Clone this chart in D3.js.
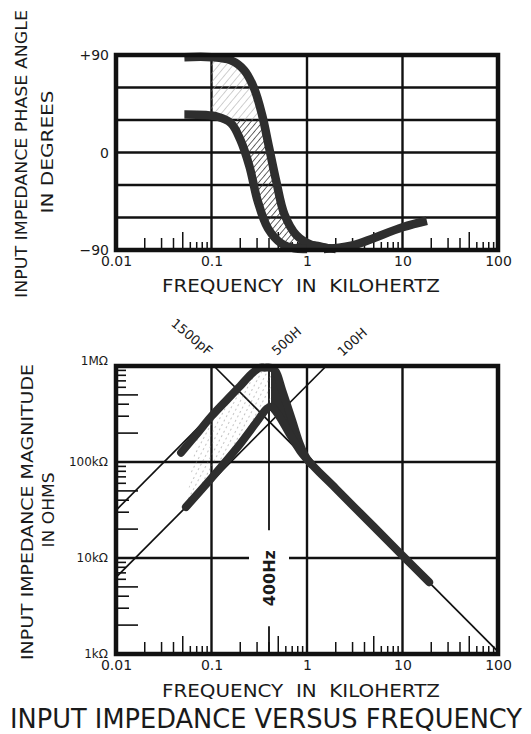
<!DOCTYPE html>
<html>
<head>
<meta charset="utf-8">
<script src="https://cdn.jsdelivr.net/npm/d3@7"></script>
<style>
  body { margin: 0; background: #fff; }
  svg { display: block; }
  text { font-family: 'DejaVu Sans', 'Liberation Sans', sans-serif; fill: #1a1a1a; }
</style>
</head>
<body>
<svg id="chart" width="531" height="734"></svg>
<script>
// shared frequency axis (kHz)
const freqDecades = [0.01, 0.1, 1, 10, 100];
const freqLabels = ['0.01', '0.1', '1', '10', '100'];
const freqGrid = [0.1, 1, 10];

// phase panel axis
const phaseTicks = [90, 0, -90];
const phaseLabels = ['+90', '0', '\u221290'];
const phaseGrid = [60, 30, 0, -30, -60];

// magnitude panel axis
const magTicks = [1e6, 1e5, 1e4, 1e3];
const magLabels = ['1M\u03a9', '100k\u03a9', '10k\u03a9', '1k\u03a9'];
const magGrid = [1e5, 1e4];

// phase curves: frequency (kHz) and angle (degrees)
const phaseHighFreq = [0.052, 0.1, 0.16, 0.22, 0.28, 0.34, 0.40, 0.475, 0.58, 0.77, 1.1, 2.0];
const phaseHighDeg = [88, 88, 85, 76, 59, 34, 5, -26, -57, -76, -85, -89];
const phaseLowFreq = [0.052, 0.116, 0.16, 0.20, 0.25, 0.305, 0.39, 0.54, 0.74, 1.0];
const phaseLowDeg = [35, 33, 27, 12, -13, -45, -70, -84, -88.5, -89];
const phaseRiseFreq = [1.5, 2.9, 10, 18];
const phaseRiseDeg = [-89, -86, -69, -63];
const phaseBlobFreq = [0.5, 0.7, 0.9, 1.2, 1.8, 2.6, 3.3];
const phaseBlobDeg = [-90, -86, -82, -82, -85, -87.5, -90];

// magnitude curves: frequency (kHz) and impedance (ohms)
const magHighFreq = [0.048, 0.07, 0.1, 0.15, 0.2, 0.26, 0.32, 0.36, 0.42, 0.47, 0.55, 0.7, 0.85, 1.0, 2, 5, 10, 19];
const magHighOhm = [125e3, 195e3, 300e3, 460e3, 620e3, 820e3, 960e3, 960e3, 960e3, 880e3, 560e3, 270e3, 150e3, 108e3, 53e3, 21.2e3, 10.6e3, 5.6e3];
const magLowFreq = [0.054, 0.1, 0.19, 0.3, 0.38, 0.42, 0.5, 0.65, 0.85, 1.1];
const magLowOhm = [34e3, 68e3, 145e3, 265e3, 360e3, 375e3, 310e3, 200e3, 130e3, 96e3];

// reference lines: [kHz, ohms] end points
const capLine = [[0.106, 1e6], [100, 1.06e3]];
const ind500Line = [[0.01, 31.4e3], [0.318, 1e6]];
const ind100Line = [[0.01, 6.28e3], [1.59, 1e6]];
const refLabels = ['1500pF', '500H', '100H'];

// 400 Hz marker
const markFreq = 0.4;
const markBreak = [19.5e3, 1.95e3];

const zip = (a, b) => a.map((v, i) => [v, b[i]]);

const svg = d3.select('#chart');
const defs = svg.append('defs');

const hatch = (id, angle, gap, color, width, dash) => {
  const p = defs.append('pattern')
    .attr('id', id)
    .attr('width', gap)
    .attr('height', gap)
    .attr('patternUnits', 'userSpaceOnUse')
    .attr('patternTransform', `rotate(${angle})`);
  p.append('line')
    .attr('x1', 0).attr('y1', 0).attr('x2', 0).attr('y2', gap)
    .attr('stroke', color)
    .attr('stroke-width', width)
    .attr('stroke-dasharray', dash || null);
};
hatch('hatchDark', 40, 4.5, '#333', 1.5);
hatch('hatchLight', 40, 5.5, '#aaa', 1.1);
hatch('hatchDots', 28, 5, '#888', 1, '2 3');

const x = d3.scaleLog().domain([0.01, 100]).range([116, 498]);
const yPhase = d3.scaleLinear().domain([90, -90]).range([55, 250]);
const yMag = d3.scaleLog().domain([1e6, 1e3]).range([366, 654]);

const ink = '#111';
const band = '#2e2e2e';

function drawFrame(g, y, top, bottom, hGrid) {
  g.append('g').selectAll('line')
    .data(freqGrid)
    .join('line')
    .attr('x1', d => x(d)).attr('x2', d => x(d))
    .attr('y1', top).attr('y2', bottom)
    .attr('stroke', ink).attr('stroke-width', 2.4);

  g.append('g').selectAll('line')
    .data(hGrid)
    .join('line')
    .attr('x1', x.range()[0]).attr('x2', x.range()[1])
    .attr('y1', d => y(d)).attr('y2', d => y(d))
    .attr('stroke', ink).attr('stroke-width', 2.4);

  // minor ticks on the frequency axis, drawn inward
  const minor = [];
  [0.01, 0.1, 1, 10].forEach(d => {
    for (let k = 2; k <= 9; k++) minor.push({v: d * k, k});
  });
  g.append('g').selectAll('line')
    .data(minor)
    .join('line')
    .attr('x1', d => x(d.v)).attr('x2', d => x(d.v))
    .attr('y1', bottom)
    .attr('y2', d => bottom - (d.k === 5 ? 18 : d.k < 5 ? 12 : 8))
    .attr('stroke', ink).attr('stroke-width', 1.5);
}

function drawOutline(g, top, bottom) {
  g.append('rect')
    .attr('x', x.range()[0]).attr('y', top)
    .attr('width', x.range()[1] - x.range()[0])
    .attr('height', bottom - top)
    .attr('fill', 'none')
    .attr('stroke', ink).attr('stroke-width', 4.5);
}

function freqAxis(g, yPos) {
  const axis = g.append('g')
    .attr('transform', `translate(0, ${yPos})`)
    .call(d3.axisBottom(x)
      .tickValues(freqDecades)
      .tickFormat((d, i) => freqLabels[i])
      .tickSize(0)
      .tickPadding(0));
  axis.select('.domain').remove();
  axis.selectAll('text')
    .attr('font-size', 14)
    .attr('font-family', "'DejaVu Sans', sans-serif")
    .attr('fill', '#222');
}

function axisTitle(g, text, cx, cy, len, size, rotate) {
  g.append('text')
    .attr('transform', `translate(${cx}, ${cy})${rotate ? ' rotate(-90)' : ''}`)
    .attr('text-anchor', 'middle')
    .attr('font-size', size)
    .attr('textLength', len)
    .attr('lengthAdjust', 'spacingAndGlyphs')
    .style('white-space', 'pre')
    .text(text);
}

const smooth = d3.curveCatmullRom.alpha(0.5);

// ---------- phase panel ----------
const gp = svg.append('g');
const phaseLine = d3.line()
  .x(d => x(d[0]))
  .y(d => yPhase(d[1]))
  .curve(smooth);

drawFrame(gp, yPhase, 55, 250, phaseGrid);

const highPts = zip(phaseHighFreq, phaseHighDeg);
const lowPts = zip(phaseLowFreq, phaseLowDeg);
const inHatch = d => d[0] >= 0.1 && d[0] <= 0.8;
const hatchTop = [[0.1, 88]].concat(highPts.filter(d => inHatch(d) && d[0] > 0.1));
const hatchBot = [[0.1, 33.3]].concat(lowPts.filter(d => inHatch(d) && d[0] > 0.1));
const hatchPath = phaseLine(hatchTop) + 'L' + phaseLine(hatchBot.slice().reverse()).slice(1) + 'Z';

const split = yPhase(30);
defs.append('clipPath').attr('id', 'clipUp')
  .append('rect').attr('x', 0).attr('y', 0).attr('width', 531).attr('height', split);
defs.append('clipPath').attr('id', 'clipDown')
  .append('rect').attr('x', 0).attr('y', split).attr('width', 531).attr('height', 300);

gp.append('path').attr('d', hatchPath).attr('fill', 'url(#hatchLight)').attr('clip-path', 'url(#clipUp)');
gp.append('path').attr('d', hatchPath).attr('fill', 'url(#hatchDark)').attr('clip-path', 'url(#clipDown)');

const blobPts = zip(phaseBlobFreq, phaseBlobDeg);
gp.append('path')
  .attr('d', phaseLine(blobPts) + 'Z')
  .attr('fill', band);

[highPts, lowPts, zip(phaseRiseFreq, phaseRiseDeg)].forEach(pts => {
  gp.append('path')
    .attr('d', phaseLine(pts))
    .attr('fill', 'none')
    .attr('stroke', band)
    .attr('stroke-width', 8.5)
    .attr('stroke-linecap', 'butt')
    .attr('stroke-linejoin', 'round');
});

drawOutline(gp, 55, 250);

gp.append('g').selectAll('text')
  .data(phaseTicks)
  .join('text')
  .attr('x', 109)
  .attr('y', d => yPhase(d) + 5)
  .attr('text-anchor', 'end')
  .attr('font-size', 14)
  .text((d, i) => phaseLabels[i]);

freqAxis(gp, 256);
axisTitle(gp, 'FREQUENCY  IN  KILOHERTZ', 301, 292, 278, 17);
axisTitle(gp, 'INPUT IMPEDANCE PHASE ANGLE', 27, 154, 288, 15, true);
axisTitle(gp, 'IN DEGREES', 53, 152, 123, 15, true);

// ---------- magnitude panel ----------
const gm = svg.append('g');
const magLine = d3.line()
  .x(d => x(d[0]))
  .y(d => yMag(d[1]))
  .curve(smooth);
const straight = d3.line()
  .x(d => x(d[0]))
  .y(d => yMag(d[1]));

drawFrame(gm, yMag, 366, 654, magGrid);

// inward minor ticks on the impedance axis
const magMinor = [];
[1e3, 1e4, 1e5].forEach(d => {
  for (let k = 2; k <= 9; k++) magMinor.push({v: d * k, k});
});
gm.append('g').selectAll('line')
  .data(magMinor)
  .join('line')
  .attr('x1', x.range()[0])
  .attr('x2', d => x.range()[0] + (d.k === 2 || d.k === 5 ? 22 : d.k < 5 ? 13 : 10))
  .attr('y1', d => yMag(d.v)).attr('y2', d => yMag(d.v))
  .attr('stroke', ink).attr('stroke-width', 1.6);

// gap in the 10k grid line where the 400Hz note sits
const mx = x(markFreq);
gm.append('rect')
  .attr('x', mx - 20).attr('y', yMag(1e4) - 3)
  .attr('width', 40).attr('height', 6)
  .attr('fill', '#fff');

// 400 Hz marker line with a break for its label
gm.append('g').selectAll('line')
  .data([[1e6, markBreak[0]], [markBreak[1], 1e3]])
  .join('line')
  .attr('x1', mx).attr('x2', mx)
  .attr('y1', d => yMag(d[0])).attr('y2', d => yMag(d[1]))
  .attr('stroke', ink).attr('stroke-width', 1.8);
const midY = (yMag(markBreak[0]) + yMag(markBreak[1])) / 2;
gm.append('text')
  .attr('transform', `translate(${mx + 6}, ${midY}) rotate(-90)`)
  .attr('text-anchor', 'middle')
  .attr('font-size', 16)
  .attr('font-weight', 'bold')
  .attr('textLength', 56)
  .attr('lengthAdjust', 'spacingAndGlyphs')
  .text('400Hz');

// thin reference lines
[capLine, ind500Line, ind100Line].forEach(pts => {
  gm.append('path')
    .attr('d', straight(pts))
    .attr('fill', 'none')
    .attr('stroke', ink)
    .attr('stroke-width', 1.7);
});

const mHigh = zip(magHighFreq, magHighOhm);
const mLow = zip(magLowFreq, magLowOhm);

// dotted region between the rising branches
const riseTop = mHigh.filter(d => d[0] >= 0.06 && d[0] <= 0.42);
const riseBot = mLow.filter(d => d[0] >= 0.054 && d[0] <= 0.42);
gm.append('path')
  .attr('d', magLine(riseTop) + 'L' + magLine(riseBot.slice().reverse()).slice(1) + 'Z')
  .attr('fill', 'url(#hatchDots)');

// dark wedge between the falling branches
const fallTop = mHigh.filter(d => d[0] >= 0.42 && d[0] <= 1.1);
const fallBot = mLow.filter(d => d[0] >= 0.42);
gm.append('path')
  .attr('d', magLine(fallTop) + 'L' + magLine(fallBot.slice().reverse()).slice(1) + 'Z')
  .attr('fill', band);

[mHigh, mLow].forEach(pts => {
  gm.append('path')
    .attr('d', magLine(pts))
    .attr('fill', 'none')
    .attr('stroke', band)
    .attr('stroke-width', 8)
    .attr('stroke-linecap', 'round')
    .attr('stroke-linejoin', 'round');
});

drawOutline(gm, 366, 654);

// labels on the reference lines, above the frame
const refAnchors = [capLine[0], ind500Line[1], ind100Line[1]];
const refOffsets = [[-22, -29, 40], [27, -25, -42], [26, -24, -42]];
gm.append('g').selectAll('text')
  .data(refAnchors)
  .join('text')
  .attr('transform', (d, i) => {
    const o = refOffsets[i];
    return `translate(${x(d[0]) + o[0]}, ${yMag(d[1]) + o[1]}) rotate(${o[2]})`;
  })
  .attr('text-anchor', 'middle')
  .attr('dy', '0.35em')
  .attr('font-size', 13)
  .text((d, i) => refLabels[i]);

gm.append('g').selectAll('text')
  .data(magTicks)
  .join('text')
  .attr('x', 108)
  .attr('y', (d, i) => yMag(d) + (i === 0 ? -1 : 4))
  .attr('text-anchor', 'end')
  .attr('font-size', 12)
  .text((d, i) => magLabels[i]);

freqAxis(gm, 660);
axisTitle(gm, 'FREQUENCY  IN  KILOHERTZ', 301, 697, 278, 17);
axisTitle(gm, 'INPUT IMPEDANCE MAGNITUDE', 33, 512, 296, 15, true);
axisTitle(gm, 'IN OHMS', 54, 510, 75, 15, true);

// chart title
svg.append('text')
  .attr('x', 266).attr('y', 728)
  .attr('text-anchor', 'middle')
  .attr('font-size', 26)
  .attr('font-family', "'DejaVu Sans Condensed', 'Liberation Sans Narrow', 'DejaVu Sans', sans-serif")
  .attr('textLength', 512)
  .attr('lengthAdjust', 'spacingAndGlyphs')
  .text('INPUT IMPEDANCE VERSUS FREQUENCY');
</script>
</body>
</html>
